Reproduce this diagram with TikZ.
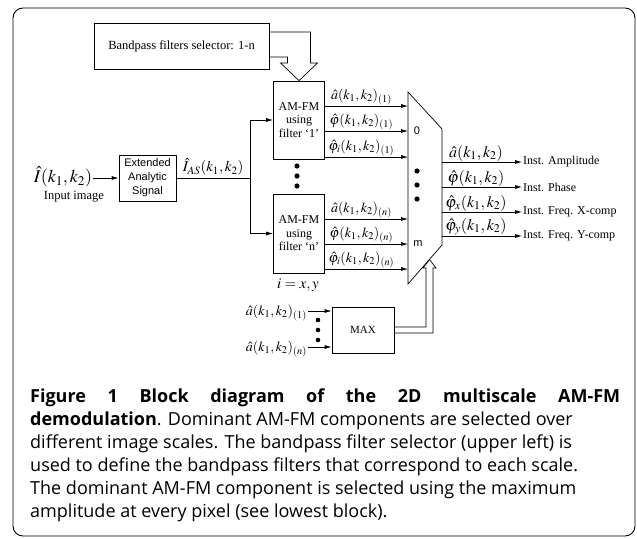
\documentclass[tikz,border=0pt]{standalone}
\usepackage{mathptmx}
\usepackage{fontspec}
\setmainfont{Liberation Serif}
\newfontfamily\sansfnt{Liberation Sans}
\newfontfamily\capfnt{Open Sans}
\usetikzlibrary{arrows.meta, positioning, calc}

\begin{document}
\begin{tikzpicture}[x=1pt, y=-1pt,
  blk/.style={draw, line width=0.7pt, align=center, inner sep=0pt},
  sig/.style={draw, line width=0.7pt, -{Latex[length=7pt, width=4pt]}},
  wire/.style={draw, line width=0.7pt},
  mlbl/.style={inner sep=0.5pt, font=\fontsize{14}{16}\selectfont},
  olbl/.style={anchor=west, inner sep=1pt, font=\fontsize{12}{14}\selectfont}]

  \useasboundingbox (0,0) rectangle (637,538);
  \draw[line width=0.9pt, rounded corners=10pt] (13,8) rectangle (635,536);

  % blocks
  \node[blk, minimum width=175pt, minimum height=46pt, font=\fontsize{12.5}{14}\selectfont] (sel) at (181.5,46) {Bandpass filters selector: 1-n};
  \node[blk, minimum width=51pt, minimum height=78pt, font=\fontsize{12}{13.5}\selectfont] (am1) at (299,120) {AM-FM\\using\\filter `1'};
  \node[blk, minimum width=51pt, minimum height=79pt, font=\fontsize{12}{13.5}\selectfont] (amn) at (299,233.5) {AM-FM\\using\\filter `n'};
  \node[blk, minimum width=57pt, minimum height=46pt, font=\sansfnt\fontsize{11}{14}\selectfont] (eas) at (147.5,178) {Extended\\Analytic\\Signal};
  \node[blk, minimum width=62pt, minimum height=46pt, font=\fontsize{11}{13}\selectfont] (maxb) at (363,330) {MAX};

  % multiplexer
  \coordinate (muxa) at (408,92);
  \coordinate (muxb) at (442,129);
  \coordinate (muxc) at (442,245);
  \coordinate (muxd) at (408,284);
  \draw[wire] (muxa) -- (muxb) -- (muxc) -- (muxd) -- cycle;
  \node[font=\sansfnt\fontsize{11}{13}\selectfont, inner sep=0pt] (sel0) at (417,131) {0};
  \node[font=\sansfnt\fontsize{11}{13}\selectfont, inner sep=0pt] (selm) at (418,244) {m};

  % input side
  \node[font=\fontsize{18}{20}\selectfont, inner sep=0.5pt] (inp) at (63,177) {$\hat{I}(k_1,k_2)$};
  \node[font=\fontsize{12.5}{14}\selectfont, inner sep=0pt] (inpl) at (74,197) {Input image};
  \draw[sig] (inp.east |- eas.west) -- (eas.west);

  \coordinate (split) at (250,178);
  \draw[wire] (eas.east) -- node[above, font=\fontsize{15}{17}\selectfont, inner sep=2pt] (ias) {$\hat{I}_{AS}(k_1,k_2)$} (split);
  \draw[sig] (split) |- (am1.west);
  \draw[sig] (split) |- (amn.west);

  % filter selector into first block
  \draw[wire] (sel.east |- 0,32) -- (310.5,32) -- (310.5,63) -- (317.5,63) -- (am1.north)
    -- (280.5,63) -- (287.5,63) -- (287.5,57) -- (sel.east |- 0,57);

  % block outputs
  \foreach \yy/\lab in {106/{\hat{a}(k_1,k_2)_{(1)}}, 131/{\hat{\varphi}(k_1,k_2)_{(1)}}, 157/{\hat{\varphi}_i(k_1,k_2)_{(1)}}}
    \draw[sig] (am1.east |- 0,\yy) -- node[mlbl, above, xshift=-5pt] {$\lab$} (muxa |- 0,\yy);
  \foreach \yy/\lab in {219/{\hat{a}(k_1,k_2)_{(n)}}, 244/{\hat{\varphi}(k_1,k_2)_{(n)}}, 269/{\hat{\varphi}_i(k_1,k_2)_{(n)}}}
    \draw[sig] (amn.east |- 0,\yy) -- node[mlbl, above, xshift=-5pt] {$\lab$} (muxa |- 0,\yy);

  % outputs
  \node[olbl] (oamp) at (522,162) {Inst. Amplitude};
  \node[olbl] (opha) at (522,187) {Inst. Phase};
  \node[olbl] (ofx) at (522,212) {Inst. Freq. X-comp};
  \node[olbl] (ofy) at (522,236) {Inst. Freq. Y-comp};
  \draw[sig] (muxb |- oamp) -- node[mlbl, above, xshift=-6pt, font=\fontsize{16}{18}\selectfont] {$\hat{a}(k_1,k_2)$} (oamp.west);
  \draw[sig] (muxb |- opha) -- node[mlbl, above, xshift=-6pt, font=\fontsize{16}{18}\selectfont] {$\hat{\varphi}(k_1,k_2)$} (opha.west);
  \draw[sig] (muxb |- ofx) -- node[mlbl, above, xshift=-6pt, font=\fontsize{16}{18}\selectfont] {$\hat{\varphi}_x(k_1,k_2)$} (ofx.west);
  \draw[sig] (muxb |- ofy) -- node[mlbl, above, xshift=-6pt, font=\fontsize{16}{18}\selectfont] {$\hat{\varphi}_y(k_1,k_2)$} (ofy.west);

  % dots
  \foreach \yy in {166,176,186} \fill (297,\yy) circle (2.6pt);
  \foreach \yy in {171,185,199} \fill (417,\yy) circle (2.6pt);
  \foreach \yy in {320,330,340} \fill (318,\yy) circle (2.3pt);

  \node[font=\fontsize{15}{17}\selectfont] (ixy) at (298,285) {$i=x,y$};

  % max selection
  \node[anchor=east, font=\fontsize{14}{16}\selectfont, inner sep=1pt] (ma1) at (308,313) {$\hat{a}(k_1,k_2)_{(1)}$};
  \node[anchor=east, font=\fontsize{14}{16}\selectfont, inner sep=1pt] (man) at (308,349) {$\hat{a}(k_1,k_2)_{(n)}$};
  \draw[sig] (ma1.east |- 0,311) -- (maxb.west |- 0,311);
  \draw[sig] (man.east |- 0,347) -- (maxb.west |- 0,347);
  \draw[wire] (maxb.east |- 0,327) -- (426,327) -- (426,268) -- (423,268) -- (429.5,259.5)
    -- (436,268) -- (433,268) -- (433,333) -- (maxb.east |- 0,333);

  % caption
  \node[anchor=north west, text width=590pt, inner sep=0pt, align=justify, font=\capfnt\fontsize{18}{23}\selectfont] (capt) at (30,389)
  {\textbf{Figure 1 Block diagram of the 2D multiscale AM-FM}\linebreak
   \textbf{demodulation}. Dominant AM-FM components are selected over\newline
   different image scales. The bandpass filter selector (upper left) is\newline
   used to define the bandpass filters that correspond to each scale.\newline
   The dominant AM-FM component is selected using the maximum\newline
   amplitude at every pixel (see lowest block).};
\end{tikzpicture}
\end{document}
